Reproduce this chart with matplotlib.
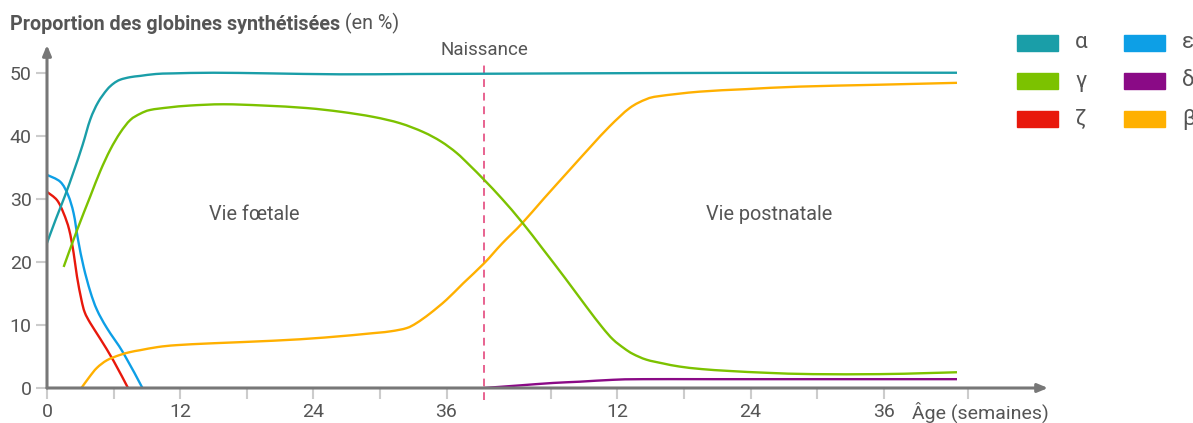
import matplotlib
matplotlib.use("Agg")
import matplotlib.pyplot as plt
from matplotlib.patches import Rectangle, PathPatch
from matplotlib.path import Path

plt.rcParams['font.family'] = ['Roboto', 'DejaVu Sans']

# x = weeks since conception, birth at BIRTH
BIRTH = 39.4

alpha_x = [0, 0.8, 1.6, 2.4, 3.2, 3.9, 4.6, 5.4, 6.0, 6.6, 7.5, 8.4, 9.8, 11.4, 15, 20, 26.4, 33, 40.8, 55, 70, 82]
alpha_y = [23, 26.8, 30.4, 34.3, 38.5, 42.6, 45.3, 47.3, 48.3, 48.9, 49.3, 49.5, 49.8, 49.9, 50.0, 49.9, 49.75, 49.8, 49.85, 49.95, 50, 50]

gamma_x = [1.5, 2.7, 3.9, 4.8, 5.7, 6.6, 7.5, 8.4, 9.3, 11, 12.9, 15.9, 19.5, 23.4, 26.5, 29.4, 31.8,
           33.9, 35.5, 36.9, 38.1, 39.4, 41, 42.8, 44.7, 46.7, 48.6, 50, 51, 52, 52.8, 54, 55.5, 57,
           59, 61.5, 65, 69, 75, 79, 82]
gamma_y = [19.2, 25, 30.4, 34.4, 37.8, 40.5, 42.5, 43.5, 44.1, 44.5, 44.8, 45, 44.8, 44.4, 43.8, 43, 42,
           40.6, 39.1, 37.3, 35.3, 33.0, 30.0, 26.3, 22.0, 17.4, 12.9, 9.7, 7.7, 6.3, 5.4, 4.5, 3.9, 3.4,
           3.0, 2.7, 2.4, 2.2, 2.2, 2.35, 2.5]

zeta_x = [0, 0.9, 1.5, 2.0, 2.4, 2.7, 3.1, 3.4, 3.9, 4.8, 6.0, 7.3]
zeta_y = [31.1, 29.8, 27.7, 25.1, 21.4, 17.7, 14.0, 12.0, 10.3, 7.8, 4.3, 0]

eps_x = [0, 1.2, 1.9, 2.4, 2.8, 3.3, 3.9, 4.5, 5.4, 6.9, 8.6]
eps_y = [33.8, 32.7, 30.6, 27.7, 23.5, 19.2, 15.3, 12.4, 9.5, 5.5, 0]

delta_x = [39.4, 42.5, 45.6, 48, 51, 53.7, 60, 70, 82]
delta_y = [0, 0.4, 0.8, 1.0, 1.3, 1.4, 1.4, 1.4, 1.4]

beta_x = [3.1, 3.8, 4.5, 5.4, 6.5, 7.5, 8.4, 10, 11.7, 15, 20.4, 25, 29.4, 31, 32.4, 33.3, 34.5,
          36, 37.5, 39.4, 41, 42.8, 44.8, 47.1, 49, 50.7, 52.5, 54, 55.2, 58.8, 63, 67.8, 75, 82]
beta_y = [0, 1.7, 3.2, 4.4, 5.2, 5.7, 6.0, 6.5, 6.8, 7.1, 7.5, 8.0, 8.7, 9.0, 9.5, 10.3, 11.8,
          14, 16.6, 19.8, 22.9, 26.1, 30.1, 34.6, 38.3, 41.5, 44.4, 45.8, 46.3, 47, 47.4, 47.8, 48.1, 48.4]

series = [
    ("α", alpha_x, alpha_y, "#1a9ea8"),
    ("γ", gamma_x, gamma_y, "#7cc200"),
    ("ζ", zeta_x, zeta_y, "#e8180c"),
    ("ε", eps_x, eps_y, "#0d9fe6"),
    ("δ", delta_x, delta_y, "#8a0a86"),
    ("β", beta_x, beta_y, "#ffb000"),
]

pre_ticks = [0, 6, 12, 18, 24, 30, 36]
post_ticks = [6, 12, 18, 24, 30, 36, 43.6]
pre_labels = ["0", "", "12", "", "24", "", "36"]
post_labels = ["", "12", "", "24", "", "36", ""]
y_ticks = [0, 10, 20, 30, 40, 50]

TXT = "#555555"
AX = "#777777"


def smooth_path(xs, ys):
    """Catmull-Rom curve through the points, as cubic bezier path"""
    pts = list(zip(xs, ys))
    n = len(pts)
    verts = [pts[0]]
    codes = [Path.MOVETO]
    for i in range(n - 1):
        p0 = pts[max(i - 1, 0)]
        p1 = pts[i]
        p2 = pts[i + 1]
        p3 = pts[min(i + 2, n - 1)]
        c1 = (p1[0] + (p2[0] - p0[0]) / 6, p1[1] + (p2[1] - p0[1]) / 6)
        c2 = (p2[0] - (p3[0] - p1[0]) / 6, p2[1] - (p3[1] - p1[1]) / 6)
        verts += [c1, c2, p2]
        codes += [Path.CURVE4] * 3
    return Path(verts, codes)


W, H = 1193, 423
fig = plt.figure(figsize=(W / 100, H / 100), dpi=100)
ax = fig.add_axes([47 / W, 35 / H, (1048 - 47) / W, (388 - 45) / H])
ax.set_xlim(0, 90.2)
ax.set_ylim(0, 54.4)
for s in ax.spines.values():
    s.set_visible(False)

# draw the curves
for name, xs, ys, col in [series[4], series[3], series[2], series[5], series[1], series[0]]:
    ax.add_patch(PathPatch(smooth_path(xs, ys), facecolor='none', edgecolor=col, lw=1.7,
                           capstyle='butt', zorder=3))

# axes with arrows
arrow = dict(arrowstyle='-|>,head_length=0.6,head_width=0.25', color=AX, lw=2.2,
             shrinkA=0, shrinkB=0)
ax.annotate("", xy=(90.2, 0), xytext=(0, 0), arrowprops=arrow, annotation_clip=False, zorder=4)
ax.annotate("", xy=(0, 54.4), xytext=(0, 0), arrowprops=arrow, annotation_clip=False, zorder=4)

# ticks
ax.set_xticks(pre_ticks + [BIRTH + t for t in post_ticks])
ax.set_xticklabels(pre_labels + post_labels)
ax.set_yticks(y_ticks)
ax.tick_params(axis='both', length=8, width=1.5, color="#cccccc", labelcolor=TXT,
               labelsize=14, pad=3)

# birth line
ax.plot([BIRTH, BIRTH], [-1.9, 51.7], color="#e8628f", lw=1.4, ls=(0, (4, 3)),
        clip_on=False, zorder=2)
ax.text(BIRTH, 53.6, "Naissance", ha='center', va='center', fontsize=13.5, color=TXT)
ax.text(18.7, 27.5, "Vie fœtale", ha='center', va='center', fontsize=14.3, color=TXT)
ax.text(65.1, 27.5, "Vie postnatale", ha='center', va='center', fontsize=14.3, color=TXT)
fig.text(912 / W, 1 - 412 / H, "Âge (semaines)", ha='left', va='center', fontsize=14, color=TXT)

# title
t = fig.text(10 / W, 1 - 25 / H, "Proportion des globines synthétisées", ha='left', va='center',
             fontsize=14.2, fontweight='bold', color=TXT)
ax.annotate(" (en %)", xy=(1, 0), xycoords=t, ha='left', va='bottom', fontsize=14.2,
            color=TXT, annotation_clip=False)

# legend
cols = [1017, 1124]
rows = [43, 81, 119]
for i, (name, xs, ys, col) in enumerate(series):
    cx = cols[i // 3]
    cy = rows[i % 3]
    fig.patches.append(Rectangle((cx / W, 1 - (cy + 8) / H), 41 / W, 16 / H, color=col,
                                 transform=fig.transFigure, figure=fig))
    fig.text((cx + 58) / W, 1 - cy / H, name, ha='left', va='center', fontsize=16, color=TXT)

fig.savefig("out.png", dpi=100)
